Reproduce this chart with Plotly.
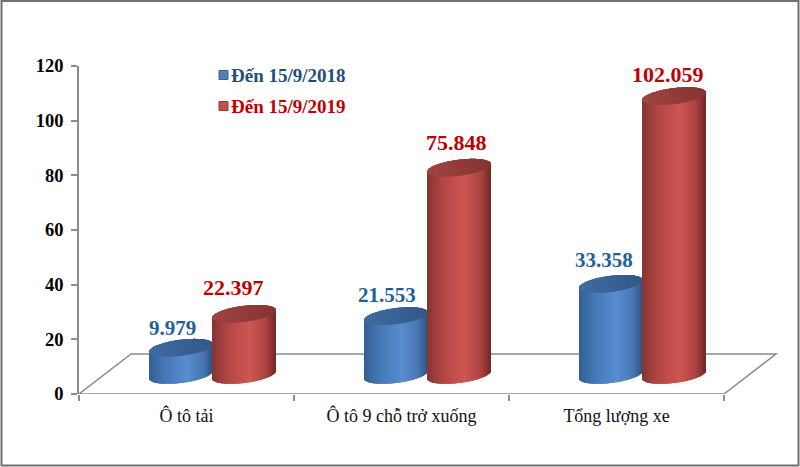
import numpy as np
import plotly.graph_objects as go

categories = ["Ô tô tải", "Ô tô 9 chỗ trở xuống", "Tổng lượng xe"]
series_2018 = [9.979, 21.553, 33.358]
series_2019 = [22.397, 75.848, 102.059]
name_2018 = "Đến 15/9/2018"
name_2019 = "Đến 15/9/2019"
y_ticks = [0, 20, 40, 60, 80, 100, 120]

# Layout of the pseudo-3D scene
W, H = 800, 467
L, R, T, B = 79, 20, 66, 73
PX_X = 215                  # px per category band
PX_Y = (H - T - B) / 120    # px per value unit
X_MAX = (W - L - R) / PX_X
BASE = 19 / PX_Y            # the cylinders stand in the middle of the floor depth
HALF_W = 31.5 / PX_X
BOX_B = 8.0 / PX_Y
SHEAR = 3.8 / PX_Y
GROUP_SHIFT = 0.119
STRIP = 1.0 / PX_X
FONT = "Liberation Serif"
GREY = "#8c8c8c"


def mix(stops, f):
    xs = [s[0] for s in stops]
    ch = [np.interp(f, xs, [s[1][i] for s in stops]) for i in range(3)]
    return "rgb(%d,%d,%d)" % tuple(int(round(c)) for c in ch)


BLUE_BODY = [(0, (50, 94, 148)), (0.25, (70, 120, 182)), (0.6, (88, 140, 207)),
             (0.85, (72, 120, 180)), (1, (46, 84, 130))]
RED_BODY = [(0, (132, 52, 50)), (0.25, (178, 70, 68)), (0.6, (206, 86, 83)),
            (0.85, (172, 67, 65)), (1, (112, 42, 40))]
BLUE_LID = [(0, (64, 108, 160)), (1, (48, 88, 136))]
RED_LID = [(0, (160, 68, 66)), (1, (132, 52, 50))]


def cylinder(cx, value, body, lid):
    n = int(round(2 * HALF_W / STRIP))
    xs = cx - HALF_W + (np.arange(n) + 0.5) * STRIP
    u = (xs - cx) / HALF_W
    arc = BOX_B * np.sqrt(1 - u ** 2)
    bottom = BASE + SHEAR * u - arc
    top_low = BASE + value + SHEAR * u - arc
    top_high = BASE + value + SHEAR * u + arc
    widths = [STRIP * 1.15] * n
    f = (u + 1) / 2
    return [
        go.Bar(x=xs, base=bottom, y=top_high - bottom, width=widths,
               marker=dict(color=[mix(body, v) for v in f], line_width=0),
               showlegend=False, hoverinfo="skip", cliponaxis=False),
        go.Bar(x=xs, base=top_low, y=top_high - top_low, width=widths,
               marker=dict(color=[mix(lid, v) for v in f], line_width=0),
               showlegend=False, hoverinfo="skip", cliponaxis=False),
    ]


fig = go.Figure()

for i, (a, b) in enumerate(zip(series_2018, series_2019)):
    c = i + 0.5 + GROUP_SHIFT
    for tr in cylinder(c - HALF_W, a, BLUE_BODY, BLUE_LID):
        fig.add_trace(tr)
    for tr in cylinder(c + HALF_W, b, RED_BODY, RED_LID):
        fig.add_trace(tr)

# Value labels
dx_2018, dy_2018 = [-8, -9, -7], [20, 21, 24]
dx_2019, dy_2019 = [-10, -2, -6], [26, 25, 22]
annos = []
for i in range(3):
    c = i + 0.5 + GROUP_SHIFT
    annos.append(dict(x=c - HALF_W, y=BASE + series_2018[i], text=f"{series_2018[i]:.3f}",
                      showarrow=False, xshift=dx_2018[i], yshift=dy_2018[i],
                      font=dict(family=FONT, size=21, color="#1f5f99", weight="bold")))
    annos.append(dict(x=c + HALF_W, y=BASE + series_2019[i], text=f"{series_2019[i]:.3f}",
                      showarrow=False, xshift=dx_2019[i], yshift=dy_2019[i],
                      font=dict(family=FONT, size=22, color="#c00000", weight="bold")))


def px_x(v):
    return (v - L) / (W - L - R)


def px_y(v):
    return (H - B - v) / (H - T - B)


# Frame and floor (drawn beneath the cylinders)
floor_dx = 52 / PX_X
floor_dy = 40 / PX_Y
shapes = [
    dict(type="rect", xref="paper", yref="paper",
         x0=px_x(1.5), x1=px_x(798.5), y0=px_y(465.5), y1=px_y(1),
         line=dict(color="#707070", width=2), layer="below"),
    dict(type="path", xref="x", yref="y", layer="below", line=dict(color=GREY, width=1.5),
         path=f"M 3 0 L 0 0 L {floor_dx} {floor_dy} L {3 + floor_dx} {floor_dy} L 3 0"),
]

# Legend: swatches and labels
for name, fill, edge, txt, yc in [(name_2018, "#4f81bd", "#3a6595", "#1f4e79", 75),
                                  (name_2019, "#c0504d", "#943c3a", "#c00000", 106)]:
    shapes.append(dict(type="rect", xref="paper", yref="paper",
                       x0=px_x(219), x1=px_x(228), y0=px_y(yc - 4.5), y1=px_y(yc + 4.5),
                       fillcolor=fill, line=dict(color=edge, width=1)))
    annos.append(dict(xref="paper", yref="paper", x=px_x(232), y=px_y(yc), xanchor="left", yanchor="middle",
                      text=name, showarrow=False, xshift=-3,
                      font=dict(family=FONT, size=19, color=txt, weight="bold")))

fig.update_layout(
    width=W, height=H, autosize=False,
    margin=dict(l=L, r=R, t=T, b=B),
    paper_bgcolor="white", plot_bgcolor="rgba(0,0,0,0)",
    barmode="overlay", showlegend=False,
    annotations=annos, shapes=shapes,
    xaxis=dict(range=[0, X_MAX], tickmode="array", tickvals=[0.5, 1.5, 2.5], ticktext=categories,
               ticks="", showgrid=False, zeroline=False, showline=False,
               tickfont=dict(family=FONT, size=18, color="#111111"), ticklabelstandoff=9,
               minor=dict(tickmode="array", tickvals=[0, 1, 2, 3], ticks="outside", ticklen=6,
                          tickcolor=GREY, tickwidth=1.5, showgrid=False)),
    yaxis=dict(range=[0, 120], tickmode="array", tickvals=y_ticks, ticks="outside", ticklen=6,
               tickcolor=GREY, tickwidth=1.5, showgrid=False, zeroline=False, showline=True,
               linecolor=GREY, linewidth=1.5, ticklabelstandoff=4,
               tickfont=dict(family=FONT, size=18.5, color="#000000", weight="bold")),
)

fig.write_html("out.html", config={"displayModeBar": False},
               post_script="document.body.style.margin='0';document.body.style.overflow='hidden';")
